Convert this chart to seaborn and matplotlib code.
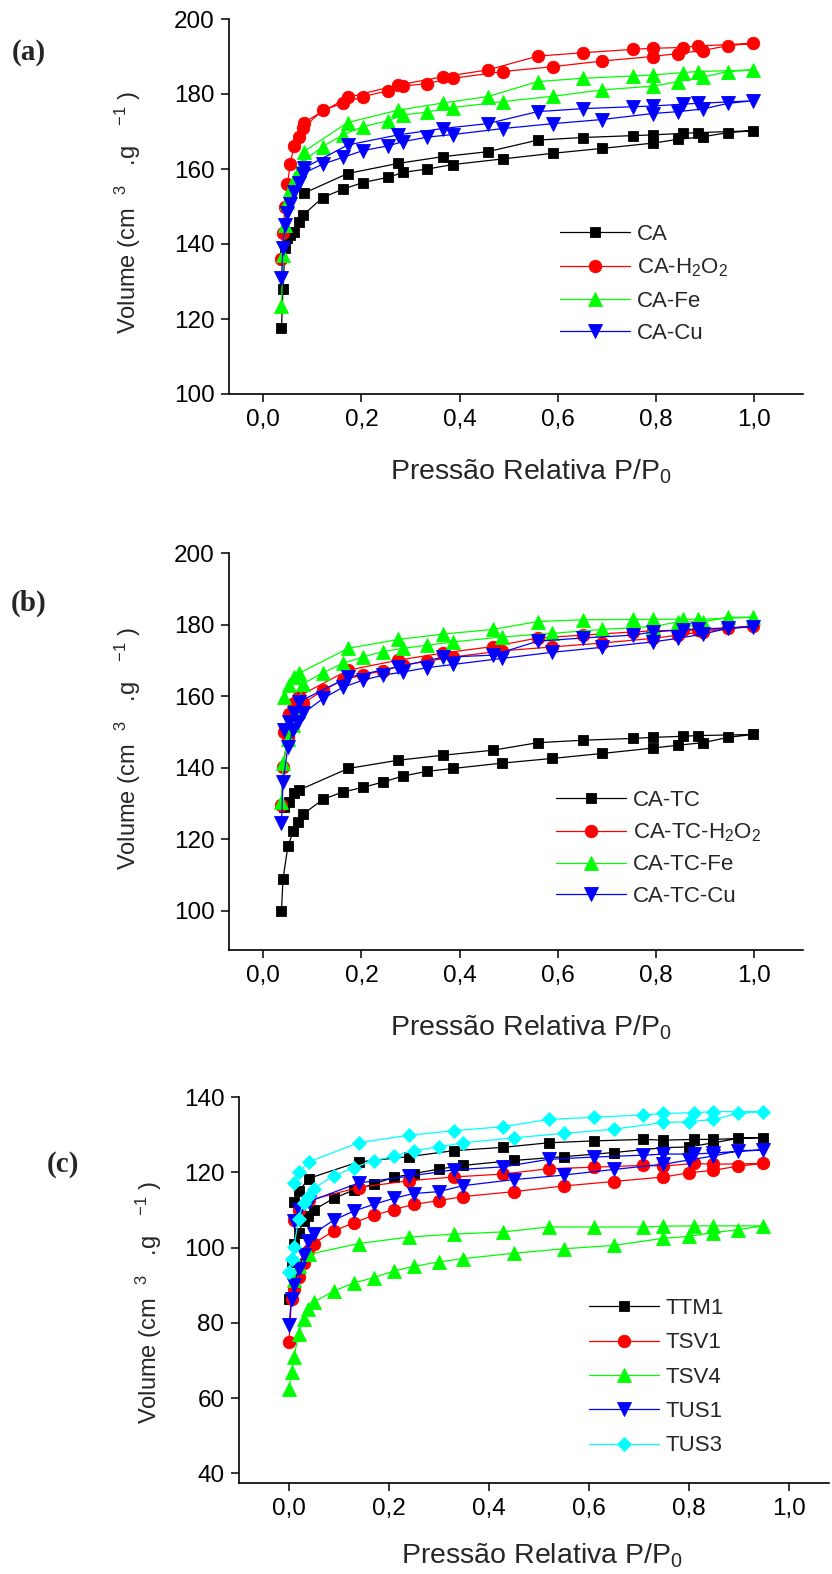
import numpy as np
import pandas as pd
import matplotlib
matplotlib.use("Agg")
import matplotlib.pyplot as plt
import seaborn as sns
from matplotlib.ticker import FixedLocator, FuncFormatter

# ---------------- data ----------------
# panel (a)
ads_x_a = [0.037, 0.040, 0.044, 0.049, 0.055, 0.062, 0.072, 0.081, 0.121, 0.162, 0.203, 0.255, 0.285,
           0.334, 0.387, 0.489, 0.591, 0.691, 0.794, 0.845, 0.896, 0.947, 0.998]
des_x_a = [0.885, 0.855, 0.794, 0.753, 0.651, 0.559, 0.457, 0.366, 0.275, 0.172, 0.082]
labels_a = ["CA", "CA-H$_2$O$_2$", "CA-Fe", "CA-Cu"]
ca_ads = [117.5, 128.0, 139.0, 141.5, 142.5, 143.3, 146.0, 147.7, 152.4, 154.6, 156.4, 157.8, 159.1,
          160.0, 161.2, 162.7, 164.2, 165.5, 166.9, 167.9, 168.6, 169.7, 170.2]
ca_des = [169.7, 169.5, 169.1, 168.9, 168.4, 167.7, 164.6, 163.3, 161.5, 158.8, 153.5]
cah_ads = [136.0, 143.0, 150.0, 156.0, 161.3, 166.2, 168.6, 170.9, 175.7, 177.5, 179.3, 180.9, 182.1,
           182.8, 184.2, 186.0, 187.3, 188.8, 190.0, 190.8, 191.6, 192.9, 193.5]
cah_des = [192.8, 192.4, 192.2, 191.9, 191.0, 190.1, 186.4, 184.6, 182.4, 179.1, 172.4]
cafe_ads = [123.5, 137.0, 145.0, 151.3, 154.4, 157.1, 159.7, 162.0, 166.0, 169.1, 171.3, 172.9, 174.4,
            175.2, 176.4, 178.0, 179.4, 181.1, 182.1, 183.3, 184.5, 186.0, 186.4]
cafe_des = [186.0, 185.7, 185.1, 184.8, 184.2, 183.3, 179.3, 177.6, 175.7, 172.4, 164.6]
cacu_ads = [131.0, 139.0, 145.0, 148.2, 150.8, 154.0, 156.2, 158.8, 161.3, 163.1, 164.9, 166.2, 167.3,
            168.5, 169.2, 170.8, 172.1, 173.2, 174.8, 175.3, 176.0, 177.5, 178.2]
cacu_des = [177.5, 177.3, 176.8, 176.6, 176.1, 175.3, 172.1, 170.8, 169.1, 166.4, 160.2]

# panel (b)
ads_x_b = [0.037, 0.040, 0.050, 0.061, 0.070, 0.081, 0.122, 0.162, 0.203, 0.244, 0.285, 0.334, 0.387,
           0.487, 0.589, 0.691, 0.794, 0.845, 0.896, 0.947, 0.998]
des_x_b = [0.885, 0.855, 0.794, 0.753, 0.651, 0.559, 0.468, 0.366, 0.275, 0.173, 0.072, 0.062, 0.052, 0.042]
labels_b = ["CA-TC", "CA-TC-H$_2$O$_2$", "CA-TC-Fe", "CA-TC-Cu"]
tc_ads = [100.0, 108.8, 118.0, 122.2, 124.8, 127.0, 131.2, 133.2, 134.5, 136.0, 137.7, 139.0, 139.8,
          141.3, 142.6, 144.0, 145.5, 146.3, 147.0, 148.5, 149.3]
tc_des = [149.0, 148.8, 148.5, 148.2, 147.7, 147.0, 144.9, 143.5, 142.1, 139.8, 133.7, 132.8, 130.4, 129.0]
tch_ads = [129.5, 140.2, 148.6, 153.0, 156.0, 158.0, 161.7, 164.5, 166.0, 167.1, 168.7, 169.8, 171.0,
           172.7, 173.8, 174.9, 176.2, 177.1, 178.0, 179.0, 179.6]
tch_des = [178.5, 178.5, 178.3, 178.0, 177.1, 176.3, 173.9, 172.1, 170.1, 167.3, 160.0, 158.0, 155.0, 150.0]
tcfe_ads = [130.4, 141.4, 148.0, 152.0, 156.0, 163.5, 166.6, 169.2, 171.0, 172.5, 173.4, 174.3, 175.2,
            176.6, 177.6, 178.7, 179.5, 180.8, 180.8, 182.1, 182.1]
tcfe_des = [181.5, 181.6, 181.5, 181.5, 181.4, 180.9, 178.7, 177.4, 175.9, 173.4, 166.4, 165.4, 163.1, 159.8]
tccu_ads = [124.4, 135.9, 145.8, 150.5, 152.8, 155.2, 159.4, 162.5, 164.5, 165.9, 166.8, 168.0, 168.9,
            170.6, 172.3, 173.7, 175.2, 176.2, 177.4, 179.0, 179.4]
tccu_des = [178.8, 178.6, 178.0, 177.1, 176.3, 175.4, 171.5, 170.9, 168.3, 165.3, 158.4, 155.2, 152.8, 150.5]

# panel (c)
ads_x_c = [0.0, 0.005, 0.010, 0.019, 0.029, 0.037, 0.049, 0.089, 0.129, 0.169, 0.209, 0.249, 0.299,
           0.349, 0.449, 0.549, 0.649, 0.749, 0.799, 0.849, 0.899, 0.949]
des_x_c = [0.849, 0.809, 0.749, 0.709, 0.609, 0.519, 0.429, 0.329, 0.239, 0.139, 0.039, 0.020, 0.009]
labels_c = ["TTM1", "TSV1", "TSV4", "TUS1", "TUS3"]
ttm1_ads = [86.4, 96.2, 101.0, 104.0, 107.0, 108.5, 110.0, 113.1, 115.3, 116.9, 118.7, 119.7, 120.9,
            121.9, 123.2, 124.2, 125.3, 126.6, 126.8, 127.9, 129.1, 129.3]
ttm1_des = [128.8, 128.8, 128.6, 128.8, 128.4, 127.9, 126.7, 125.8, 124.2, 122.8, 118.4, 115.0, 112.2]
tsv1_ads = [74.8, 86.4, 89.0, 92.2, 96.0, 99.0, 101.1, 104.4, 106.6, 108.6, 110.1, 111.5, 112.5,
            113.6, 114.9, 116.4, 117.6, 118.8, 119.9, 120.6, 121.7, 122.4]
tsv1_des = [122.2, 122.4, 121.7, 121.9, 121.4, 121.0, 119.6, 118.8, 117.8, 116.0, 112.6, 110.0, 107.3]
tsv4_ads = [62.5, 67.0, 70.8, 77.1, 81.1, 83.8, 85.5, 88.4, 90.6, 92.0, 93.8, 95.0, 96.2,
            97.1, 98.5, 99.7, 100.6, 102.5, 103.0, 104.0, 104.8, 105.8]
tsv4_des = [105.8, 105.8, 105.7, 105.5, 105.5, 105.5, 104.2, 103.6, 102.8, 101.1, 98.2, 95.0, 91.3]
tus1_ads = [79.3, 86.4, 90.0, 94.4, 98.0, 101.7, 103.7, 107.3, 109.7, 111.5, 113.1, 114.4, 114.9,
            116.5, 118.1, 119.3, 120.8, 122.2, 123.3, 124.4, 125.8, 126.0]
tus1_des = [125.2, 124.9, 124.9, 124.6, 124.1, 123.5, 121.5, 120.7, 119.0, 117.2, 112.2, 110.0, 107.0]
tus3_ads = [93.5, 97.0, 100.2, 107.7, 112.0, 113.5, 115.7, 119.1, 121.3, 123.1, 124.3, 125.8, 126.8,
            127.9, 129.2, 130.4, 131.5, 133.3, 133.5, 134.1, 135.7, 136.2]
tus3_des = [136.2, 135.9, 135.7, 135.3, 134.7, 134.1, 132.2, 131.1, 129.9, 127.9, 122.8, 120.0, 117.1]

x_ticks = [0.0, 0.2, 0.4, 0.6, 0.8, 1.0]

# ---------------- style ----------------
sns.set_theme(style="ticks")
plt.rcParams['font.family'] = ['Liberation Sans', 'DejaVu Sans']
plt.rcParams['mathtext.fontset'] = 'custom'
plt.rcParams['mathtext.rm'] = 'Liberation Sans'
plt.rcParams['mathtext.it'] = 'Liberation Sans:italic'
plt.rcParams['mathtext.bf'] = 'Liberation Sans:bold'

W, H = 832, 1574
fig = plt.figure(figsize=(W / 100, H / 100), dpi=100)

def fx(px):
    return px / W

def fy(py):
    return 1 - py / H

COLORS = ["#000000", "#ff0000", "#00ff00", "#0000ff", "#00ffff"]
MARKERS = ["s", "o", "^", "v", "D"]
MSIZES = [7.8, 9.0, 10.5, 10.5, 7.6]

def panel(rect, xlim, ylim, yticks, ads_x, des_x, series, labels, leg_xy, lspace):
    l, t, r, b = rect
    ax = fig.add_axes([fx(l), fy(b), fx(r) - fx(l), fy(t) - fy(b)])
    handles = []
    for i, (ya, yd) in enumerate(series):
        xs = list(ads_x) + list(des_x)
        ys = list(ya) + list(yd)
        df = pd.DataFrame({"x": xs, "y": ys})
        sns.lineplot(data=df, x="x", y="y", sort=False, estimator=None, ax=ax,
                     color=COLORS[i], marker=MARKERS[i], markersize=MSIZES[i],
                     markeredgecolor=COLORS[i], markeredgewidth=0.6, linewidth=0.9)
        handles.append(ax.lines[-1])
    ax.set_xlim(*xlim)
    ax.set_ylim(*ylim)
    ax.xaxis.set_major_locator(FixedLocator(x_ticks))
    ax.yaxis.set_major_locator(FixedLocator(yticks))
    ax.xaxis.set_major_formatter(FuncFormatter(lambda v, p: f"{v:.1f}".replace('.', ',')))
    ax.yaxis.set_major_formatter(FuncFormatter(lambda v, p: f"{v:.0f}"))
    ax.set_xlabel("")
    ax.set_ylabel("")
    sns.despine(ax=ax)
    for s in ["left", "bottom"]:
        ax.spines[s].set_linewidth(1.2)
        ax.spines[s].set_color("black")
    ax.tick_params(axis="both", direction="out", length=5.5, width=1.1, colors="black",
                   labelsize=17.5, pad=5)
    ax.set_facecolor("white")
    ax.legend(handles, labels, loc="upper left", bbox_to_anchor=(fx(leg_xy[0]), fy(leg_xy[1])),
              bbox_transform=fig.transFigure, frameon=False, fontsize=16, numpoints=1,
              handlelength=3.15, handletextpad=0.3, labelspacing=lspace, borderaxespad=0,
              borderpad=0)
    return ax

ax_a = panel((229, 19, 803, 394), (-0.07, 1.1), (100, 200), [100, 120, 140, 160, 180, 200],
             ads_x_a, des_x_a,
             [(ca_ads, ca_des), (cah_ads, cah_des), (cafe_ads, cafe_des), (cacu_ads, cacu_des)],
             labels_a, (560, 224), 0.52)
ax_b = panel((229, 553.3, 803, 950), (-0.07, 1.1), (89, 200), [100, 120, 140, 160, 180, 200],
             ads_x_b, des_x_b,
             [(tc_ads, tc_des), (tch_ads, tch_des), (tcfe_ads, tcfe_des), (tccu_ads, tccu_des)],
             labels_b, (556, 790), 0.47)
ax_c = panel((239, 1097.3, 829, 1483), (-0.1, 1.08), (37.4, 140), [40, 60, 80, 100, 120, 140],
             ads_x_c, des_x_c,
             [(ttm1_ads, ttm1_des), (tsv1_ads, tsv1_des), (tsv4_ads, tsv4_des),
              (tus1_ads, tus1_des), (tus3_ads, tus3_des)],
             labels_c, (589, 1298), 0.6)

ylab = r"Volume (cm  $^{3}$   .g   $^{-1}$ )"
xlab = r"Pressão Relativa P/P$_0$"
for (yx, yy) in [(128, 212), (128, 748), (149, 1302)]:
    fig.text(fx(yx), fy(yy), ylab, rotation=90, ha="center", va="center", fontsize=17)
for (xx, xy) in [(531, 479), (531, 1035), (542, 1564)]:
    fig.text(fx(xx), fy(xy), xlab, ha="center", va="baseline", fontsize=20.5)
for (tx, ty, s) in [(29, 52, "(a)"), (29, 603, "(b)"), (63, 1164, "(c)")]:
    fig.text(fx(tx), fy(ty), s, ha="center", va="center", fontsize=21, fontweight="bold",
             family=["Liberation Serif", "DejaVu Serif"])

fig.savefig("out.png", dpi=100, facecolor="white")
